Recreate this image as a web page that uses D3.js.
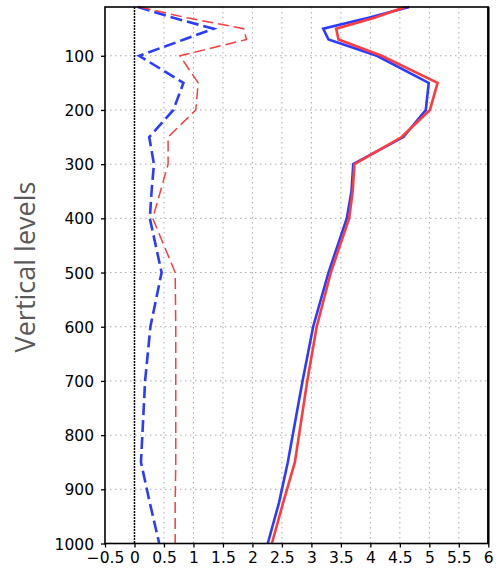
<!DOCTYPE html>
<html lang="en">
<head>
    <meta charset="UTF-8">
    <title>Vertical profiles</title>
    <script src="https://d3js.org/d3.v7.min.js"></script>
    <style>
        body { margin: 0; background: #fff; }
        .tick-label { font-family: 'DejaVu Sans', sans-serif; font-size: 15.5px; fill: #000; }
        .grid line { stroke: #aaa; stroke-width: 1; stroke-dasharray: 1.5,3.5; }
    </style>
</head>
<body>
    <div id="chart"></div>
    <script>
        // pressure levels (hPa)
        const levels = [10, 30, 50, 70, 100, 150, 200, 250, 300, 350, 400, 500, 600, 700, 850, 925, 1000];

        // series values at each level
        const blueSolid  = [4.66, 3.97, 3.20, 3.29, 4.11, 4.99, 4.94, 4.56, 3.71, 3.68, 3.60, 3.29, 3.03, 2.85, 2.60, 2.45, 2.26];
        const redSolid   = [4.59, 4.07, 3.42, 3.46, 4.19, 5.14, 5.01, 4.53, 3.73, 3.70, 3.64, 3.33, 3.09, 2.93, 2.72, 2.52, 2.33];
        const blueDashed = [0.06, 0.66, 1.34, 0.84, 0.08, 0.83, 0.66, 0.25, 0.33, 0.29, 0.26, 0.46, 0.27, 0.18, 0.11, 0.26, 0.42];
        const redDashed  = [0.09, 0.89, 1.85, 1.90, 0.77, 1.08, 1.04, 0.57, 0.57, 0.44, 0.31, 0.69, 0.70, 0.70, 0.70, 0.69, 0.69];

        const xTicks = [-0.5, 0, 0.5, 1, 1.5, 2, 2.5, 3, 3.5, 4, 4.5, 5, 5.5, 6];
        const yTicks = [100, 200, 300, 400, 500, 600, 700, 800, 900, 1000];

        const width = 498, height = 574;
        const plotLeft = 105, plotRight = 488.3, plotTop = 7, plotBottom = 543.5;

        const svg = d3.select("#chart").append("svg")
            .attr("width", width).attr("height", height);

        const x = d3.scaleLinear().domain([-0.5, 6]).range([plotLeft, plotRight]);
        const y = d3.scaleLinear().domain([10, 1000]).range([plotTop, plotBottom]);

        // dotted grid
        const grid = svg.append("g").attr("class", "grid");
        grid.selectAll(".vg").data(xTicks.slice(1, -1)).enter().append("line")
            .attr("x1", d => x(d)).attr("x2", d => x(d))
            .attr("y1", plotTop).attr("y2", plotBottom);
        grid.selectAll(".hg").data(yTicks.slice(0, -1)).enter().append("line")
            .attr("x1", plotLeft).attr("x2", plotRight)
            .attr("y1", d => y(d)).attr("y2", d => y(d));

        // zero line
        svg.append("line")
            .attr("x1", x(0)).attr("x2", x(0))
            .attr("y1", plotTop).attr("y2", plotBottom)
            .attr("stroke", "#000").attr("stroke-width", 1.5)
            .attr("stroke-dasharray", "2,1");

        // profiles
        const line = vals => d3.line()
            .x((d, i) => x(vals[i]))
            .y(d => y(d))(levels);

        svg.append("path").attr("d", line(blueDashed))
            .attr("fill", "none").attr("stroke", "#2b3bff").attr("stroke-width", 2.6)
            .attr("stroke-dasharray", "12,5");
        svg.append("path").attr("d", line(redDashed))
            .attr("fill", "none").attr("stroke", "#ff3b3b").attr("stroke-width", 1.5)
            .attr("stroke-dasharray", "11,5");
        svg.append("path").attr("d", line(blueSolid))
            .attr("fill", "none").attr("stroke", "#2b3bff").attr("stroke-width", 2.6);
        svg.append("path").attr("d", line(redSolid))
            .attr("fill", "none").attr("stroke", "#ff3b3b").attr("stroke-width", 2.6);

        // frame
        svg.append("rect")
            .attr("x", plotLeft).attr("y", plotTop)
            .attr("width", plotRight - plotLeft).attr("height", plotBottom - plotTop)
            .attr("fill", "none").attr("stroke", "#000").attr("stroke-width", 1.6);
        svg.append("line")
            .attr("x1", plotRight).attr("x2", plotRight).attr("y1", plotTop).attr("y2", plotBottom)
            .attr("stroke", "#000").attr("stroke-width", 2.4);

        // axes
        const yAxis = svg.append("g")
            .attr("transform", `translate(${plotLeft},0)`)
            .call(d3.axisLeft(y).tickValues(yTicks).tickSize(4).tickPadding(7)
                .tickFormat(d3.format("d")));
        const xAxis = svg.append("g")
            .attr("transform", `translate(0,${plotBottom})`)
            .call(d3.axisBottom(x).tickValues(xTicks).tickSize(4).tickPadding(4)
                .tickFormat(d => d < 0 ? "\u2212" + Math.abs(d) : String(d)));
        [yAxis, xAxis].forEach(a => {
            a.select(".domain").remove();
            a.selectAll(".tick line").attr("stroke", "#000").attr("stroke-width", 1.3);
            a.selectAll(".tick text").attr("class", "tick-label").attr("font-size", null).attr("font-family", null);
        });
        yAxis.selectAll(".tick text").attr("dy", "0.36em");

        // axis title
        svg.append("text")
            .attr("transform", "translate(35,267) rotate(-90)")
            .attr("text-anchor", "middle")
            .attr("font-family", "'Open Sans', sans-serif")
            .attr("font-size", 27)
            .attr("fill", "#595959")
            .text("Vertical levels");
    </script>
</body>
</html>
